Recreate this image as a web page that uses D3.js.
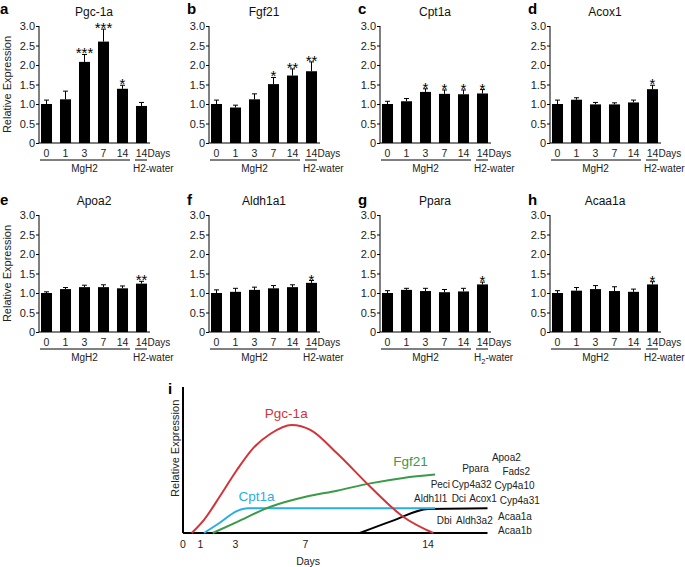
<!DOCTYPE html>
<html>
<head>
<meta charset="utf-8">
<script src="https://cdn.jsdelivr.net/npm/d3@7"></script>
<style>
  body { margin: 0; background: #fff; }
  svg { font-family: "Liberation Sans", Arial, sans-serif; }
</style>
</head>
<body>
<div id="chart"></div>
<script>
// bar panels a-h
const dayLabels = ["0", "1", "3", "7", "14", "14"];
const genes = ["Pgc-1a", "Fgf21", "Cpt1a", "Acox1", "Apoa2", "Aldh1a1", "Ppara", "Acaa1a"];
const letters = ["a", "b", "c", "d", "e", "f", "g", "h"];
const yTicks = [0, 0.5, 1.0, 1.5, 2.0, 2.5, 3.0];

const pgc1a = [1.0, 1.12, 2.08, 2.6, 1.39, 0.95];
const pgc1aErr = [0.1, 0.21, 0.19, 0.32, 0.09, 0.09];
const pgc1aSig = ["", "", "***", "***", "*", ""];

const fgf21 = [1.0, 0.91, 1.12, 1.51, 1.73, 1.84];
const fgf21Err = [0.1, 0.06, 0.14, 0.17, 0.17, 0.24];
const fgf21Sig = ["", "", "", "*", "**", "**"];

const cpt1a = [1.0, 1.07, 1.31, 1.26, 1.25, 1.27];
const cpt1aErr = [0.07, 0.07, 0.08, 0.1, 0.11, 0.1];
const cpt1aSig = ["", "", "*", "*", "*", "*"];

const acox1 = [1.0, 1.11, 0.99, 0.99, 1.04, 1.38];
const acox1Err = [0.1, 0.05, 0.05, 0.04, 0.06, 0.1];
const acox1Sig = ["", "", "", "", "", "*"];

const apoa2 = [1.0, 1.1, 1.15, 1.15, 1.12, 1.24];
const apoa2Err = [0.03, 0.04, 0.05, 0.06, 0.06, 0.06];
const apoa2Sig = ["", "", "", "", "", "**"];

const aldh1a1 = [1.0, 1.03, 1.08, 1.12, 1.15, 1.26];
const aldh1a1Err = [0.08, 0.09, 0.07, 0.07, 0.06, 0.06];
const aldh1a1Sig = ["", "", "", "", "", "*"];

const ppara = [1.0, 1.08, 1.05, 1.02, 1.04, 1.22];
const pparaErr = [0.06, 0.04, 0.07, 0.07, 0.08, 0.06];
const pparaSig = ["", "", "", "", "", "*"];

const acaa1a = [1.0, 1.06, 1.1, 1.05, 1.03, 1.22];
const acaa1aErr = [0.06, 0.08, 0.09, 0.11, 0.07, 0.07];
const acaa1aSig = ["", "", "", "", "", "*"];

const panelValues = [pgc1a, fgf21, cpt1a, acox1, apoa2, aldh1a1, ppara, acaa1a];
const panelErrors = [pgc1aErr, fgf21Err, cpt1aErr, acox1Err, apoa2Err, aldh1a1Err, pparaErr, acaa1aErr];
const panelSig = [pgc1aSig, fgf21Sig, cpt1aSig, acox1Sig, apoa2Sig, aldh1a1Sig, pparaSig, acaa1aSig];

// panel i: schematic time course (day, relative level)
const pgcCurve = [[0.5,0],[1.2,0.09],[2.1,0.25],[3.07,0.43],[4,0.58],[5,0.68],[6.2,0.74],[7.3,0.705],[8.8,0.546],[10.7,0.317],[12.6,0.11],[14.3,0]];
const fgfCurve = [[1.7,0],[3.07,0.075],[5,0.18],[7.07,0.25],[8.8,0.29],[10.7,0.34],[12.6,0.377],[14.4,0.40]];
const cptCurve = [[1.2,0],[2.1,0.07],[3.07,0.15],[3.7,0.17],[14.4,0.17]];
const lateCurve = [[10.1,0],[12,0.085],[14,0.165],[17.4,0.17]];
const baseCurve = [[0,0],[17.4,0]];
const dayTicks = [0, 1, 3, 7, 14];
const geneLabels = ["Apoa2","Ppara","Fads2","Peci","Cyp4a32","Cyp4a10","Aldh1l1","Dci","Acox1","Cyp4a31","Dbi","Aldh3a2","Acaa1a","Acaa1b"];
const geneLabelDay = [17.65, 15.95, 18.25, 14.15, 15.35, 17.8, 13.2, 15.35, 16.35, 18.1, 14.5, 15.6, 18.0, 18.0];
const geneLabelLevel = [0.516, 0.445, 0.418, 0.329, 0.329, 0.324, 0.233, 0.233, 0.233, 0.226, 0.089, 0.089, 0.116, 0.014];

const svg = d3.select("#chart").append("svg")
  .attr("width", 685)
  .attr("height", 567);

const axisXs = [39, 209, 380, 550];
const rowOffsets = [0, 189];

panelValues.forEach((vals, i) => {
  const col = i % 4, row = Math.floor(i / 4);
  const ax = axisXs[col], off = rowOffsets[row];
  const errs = panelErrors[i], sig = panelSig[i];

  const y = d3.scaleLinear().domain([0, 3]).range([143 + off, 26 + off]);
  const x = d3.scaleBand()
    .domain(d3.range(6))
    .range([ax - 2, ax + 112])
    .paddingInner(0.42)
    .paddingOuter(0.21);
  const bw = x.bandwidth();

  const g = svg.append("g");

  // bars
  g.selectAll("rect")
    .data(vals)
    .enter()
    .append("rect")
    .attr("x", (d, j) => x(j))
    .attr("y", d => y(d))
    .attr("width", bw)
    .attr("height", d => y(0) - y(d))
    .attr("fill", "#000");

  // error bars
  const eb = g.selectAll(".err")
    .data(vals)
    .enter()
    .append("g")
    .attr("class", "err")
    .attr("stroke", "#000")
    .attr("stroke-width", 1);
  eb.append("line")
    .attr("x1", (d, j) => x(j) + bw / 2)
    .attr("x2", (d, j) => x(j) + bw / 2)
    .attr("y1", d => y(d))
    .attr("y2", (d, j) => y(d + errs[j]));
  eb.append("line")
    .attr("x1", (d, j) => x(j) + bw / 2 - 2.5)
    .attr("x2", (d, j) => x(j) + bw / 2 + 2.5)
    .attr("y1", (d, j) => y(d + errs[j]))
    .attr("y2", (d, j) => y(d + errs[j]));

  // significance stars
  g.selectAll(".sig")
    .data(vals)
    .enter()
    .append("text")
    .attr("class", "sig")
    .attr("x", (d, j) => x(j) + bw / 2)
    .attr("y", (d, j) => y(d + errs[j]) + 4)
    .attr("text-anchor", "middle")
    .attr("font-size", 15)
    .text((d, j) => sig[j]);

  // y axis
  const yAxis = d3.axisLeft(y)
    .tickValues(yTicks)
    .tickSize(3)
    .tickFormat(d => d === 0 ? "0" : d3.format(".1f")(d));
  const ya = g.append("g")
    .attr("transform", `translate(${ax},0)`)
    .call(yAxis);
  ya.select(".domain").attr("d", `M0,${y(3)}V${y(0)}`);
  ya.selectAll("text").attr("font-size", 11).attr("fill", "#222").attr("x", -4);
  ya.selectAll("line").attr("x2", -3);

  // baseline
  g.append("line")
    .attr("x1", ax).attr("x2", ax + 111)
    .attr("y1", y(0)).attr("y2", y(0))
    .attr("stroke", "#000");

  // day labels
  g.selectAll(".day")
    .data(dayLabels)
    .enter()
    .append("text")
    .attr("x", (d, j) => x(j) + bw / 2)
    .attr("y", y(0) + 14)
    .attr("text-anchor", "middle")
    .attr("font-size", 10.5)
    .attr("fill", "#222")
    .text(d => d);
  g.append("text")
    .attr("x", x(5) + bw + 0.5)
    .attr("y", y(0) + 14)
    .attr("font-size", 10)
    .attr("fill", "#222")
    .text("Days");

  // group underlines
  g.append("line")
    .attr("x1", x(0) - 1).attr("x2", x(4) + bw + 2)
    .attr("y1", y(0) + 17).attr("y2", y(0) + 17)
    .attr("stroke", "#000");
  g.append("line")
    .attr("x1", x(5) - 1).attr("x2", x(5) + bw)
    .attr("y1", y(0) + 17).attr("y2", y(0) + 17)
    .attr("stroke", "#000");
  g.append("text")
    .attr("x", (x(0) + x(4) + bw) / 2)
    .attr("y", y(0) + 29)
    .attr("text-anchor", "middle")
    .attr("font-size", 10)
    .attr("fill", "#222")
    .text("MgH2");
  const h2 = g.append("text")
    .attr("x", x(5) - 3)
    .attr("y", y(0) + 29)
    .attr("font-size", 10)
    .attr("fill", "#222");
  if (genes[i] === "Ppara") {
    h2.append("tspan").text("H");
    h2.append("tspan").attr("font-size", 7.5).attr("dy", 2.5).text("2");
    h2.append("tspan").attr("dy", -2.5).text("-water");
  } else {
    h2.text("H2-water");
  }

  // title and letter
  g.append("text")
    .attr("x", ax + 55)
    .attr("y", 16 + off)
    .attr("text-anchor", "middle")
    .attr("font-size", 12)
    .attr("fill", "#111")
    .text(genes[i]);
  g.append("text")
    .attr("x", col === 0 ? 0 : ax - 22)
    .attr("y", 14 + off + (row === 1 ? 2 : 0))
    .attr("font-size", 15)
    .attr("font-weight", "bold")
    .text(letters[i]);

  if (col === 0) {
    g.append("text")
      .attr("transform", `translate(11,${(y(0) + y(3)) / 2}) rotate(-90)`)
      .attr("text-anchor", "middle")
      .attr("font-size", 11)
      .attr("fill", "#222")
      .text("Relative Expression");
  }
});

// panel i
const xi = d3.scaleLinear().domain([0, 14]).range([183, 428]);
const yi = d3.scaleLinear().domain([0, 1]).range([533, 387]);
const gi = svg.append("g");
const line = d3.line().x(d => xi(d[0])).y(d => yi(d[1])).curve(d3.curveMonotoneX);

const curves = [
  {pts: baseCurve, color: "#000"},
  {pts: lateCurve, color: "#000"},
  {pts: cptCurve, color: "#29aee3"},
  {pts: fgfCurve, color: "#3a9a48"},
  {pts: pgcCurve, color: "#d1343a"}
];
gi.selectAll(".curve")
  .data(curves)
  .enter()
  .append("path")
  .attr("d", d => line(d.pts))
  .attr("fill", "none")
  .attr("stroke", d => d.color)
  .attr("stroke-width", 2);

// axis
gi.append("line")
  .attr("x1", xi(0)).attr("x2", xi(0))
  .attr("y1", yi(0)).attr("y2", yi(1))
  .attr("stroke", "#000").attr("stroke-width", 2);

gi.selectAll(".dtick")
  .data(dayTicks)
  .enter()
  .append("text")
  .attr("x", d => xi(d))
  .attr("y", yi(0) + 15)
  .attr("text-anchor", "middle")
  .attr("font-size", 10.5)
  .attr("fill", "#222")
  .text(d => d);
gi.append("text")
  .attr("x", xi(7.15))
  .attr("y", 565)
  .attr("text-anchor", "middle")
  .attr("font-size", 10.5)
  .attr("fill", "#222")
  .text("Days");
gi.append("text")
  .attr("transform", `translate(179,${yi(0.58)}) rotate(-90)`)
  .attr("text-anchor", "middle")
  .attr("font-size", 11)
  .attr("fill", "#222")
  .text("Relative Expression");
gi.append("text")
  .attr("x", 168).attr("y", 394)
  .attr("font-size", 15)
  .attr("font-weight", "bold")
  .text("i");

// curve labels
const curveLabels = [
  {t: "Pgc-1a", day: 5.9, lv: 0.82, color: "#d1343a"},
  {t: "Fgf21", day: 13.0, lv: 0.49, color: "#3a9a48"},
  {t: "Cpt1a", day: 4.2, lv: 0.25, color: "#29aee3"}
];
gi.selectAll(".clab")
  .data(curveLabels)
  .enter()
  .append("text")
  .attr("x", d => xi(d.day))
  .attr("y", d => yi(d.lv))
  .attr("dy", "0.35em")
  .attr("text-anchor", "middle")
  .attr("font-size", 13.5)
  .attr("fill", d => d.color)
  .text(d => d.t);

gi.selectAll(".glab")
  .data(geneLabels)
  .enter()
  .append("text")
  .attr("x", (d, j) => xi(geneLabelDay[j]))
  .attr("y", (d, j) => yi(geneLabelLevel[j]))
  .attr("dy", "0.35em")
  .attr("font-size", 10)
  .attr("fill", "#222")
  .text(d => d);
</script>
</body>
</html>
